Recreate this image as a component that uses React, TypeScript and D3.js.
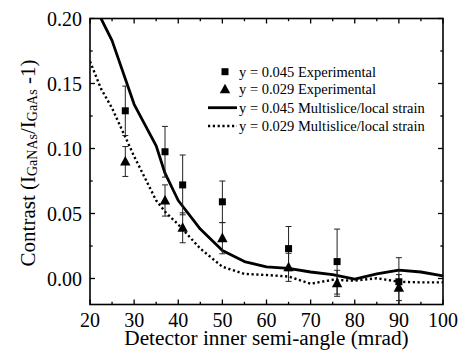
import React from "react";
import * as d3 from "d3";

const W = 462;
const H = 358;

const xTicksMajor = [20, 30, 40, 50, 60, 70, 80, 90, 100];
const yTicksMajor = [0.0, 0.05, 0.1, 0.15, 0.2];
const yTickLabels = ["0.00", "0.05", "0.10", "0.15", "0.20"];

const expX = [28, 37, 41, 50, 65, 76, 90];
const sqY = [0.129, 0.0975, 0.072, 0.059, 0.023, 0.013, -0.0025];
const sqErr = [0.019, 0.0195, 0.023, 0.016, 0.017, 0.025, 0.0185];
const triY = [0.09, 0.06, 0.039, 0.031, 0.0086, -0.0037, -0.007];
const triErr = [0.0115, 0.012, 0.0115, 0.012, 0.0108, 0.01, 0.01];

const simX = [20, 22.5, 25, 30, 35, 37, 40, 45, 50, 55, 60, 65, 70, 75, 80, 85, 90, 95, 100];
const solidY = [0.215, 0.2, 0.183, 0.134, 0.102, 0.081, 0.06, 0.038, 0.0215, 0.013, 0.009, 0.0078, 0.005, 0.003, -0.0005, 0.0035, 0.0065, 0.005, 0.002];
const dottedY = [0.167, 0.146, 0.131, 0.094, 0.06, 0.0514, 0.0415, 0.023, 0.009, 0.0035, 0.0027, 0.0015, -0.004, -0.001, -0.0017, 0.0002, -0.0025, -0.003, -0.003];

const legendLabels = [
  "y = 0.045 Experimental",
  "y = 0.029 Experimental",
  "y = 0.045 Multislice/local strain",
  "y = 0.029 Multislice/local strain",
];

const FONT = "Liberation Serif";

export default function App() {
  const left = 90, right = 443;
  const x = d3.scaleLinear().domain([20, 100]).range([left, right]);
  const y = d3.scaleLinear().domain([0, 0.2]).range([278.5, 18.5]);
  const top = y(0.2);
  const bottom = y(-0.02);

  const line = d3.line<number>().x((_, i) => x(simX[i])).y((d) => y(d));

  const xMinor = d3.range(25, 100, 10);
  const yMinorVals = [0.025, 0.075, 0.125, 0.175];

  const triPath = (cx: number, cy: number, s: number) =>
    `M${cx},${cy - s * 0.62}L${cx + s * 0.58},${cy + s * 0.45}L${cx - s * 0.58},${cy + s * 0.45}Z`;

  const legX = 225;
  const legRows = [71.7, 89.3, 107.7, 126];

  return (
    <svg width={W} height={H} style={{ position: "absolute", left: 0, top: 0, background: "#fff", fontFamily: FONT }}>
      <defs>
        <clipPath id="plotclip">
          <rect x={left} y={top} width={right - left} height={bottom - top} />
        </clipPath>
      </defs>
      <rect x={0} y={0} width={W} height={H} fill="#fff" />

      {/* ticks */}
      <g stroke="#000" strokeWidth={1.3}>
        {xTicksMajor.map((t) => (
          <g key={"xt" + t}>
            <line x1={x(t)} x2={x(t)} y1={bottom} y2={bottom - 5} />
            <line x1={x(t)} x2={x(t)} y1={top} y2={top + 5} />
          </g>
        ))}
        {xMinor.map((t) => (
          <g key={"xm" + t}>
            <line x1={x(t)} x2={x(t)} y1={bottom} y2={bottom - 2.7} />
            <line x1={x(t)} x2={x(t)} y1={top} y2={top + 2.7} />
          </g>
        ))}
        {yTicksMajor.map((t) => (
          <g key={"yt" + t}>
            <line x1={left} x2={left + 5} y1={y(t)} y2={y(t)} />
            <line x1={right} x2={right - 5} y1={y(t)} y2={y(t)} />
          </g>
        ))}
        {yMinorVals.map((t) => (
          <g key={"ym" + t}>
            <line x1={left} x2={left + 2.7} y1={y(t)} y2={y(t)} />
            <line x1={right} x2={right - 2.7} y1={y(t)} y2={y(t)} />
          </g>
        ))}
      </g>

      {/* curves */}
      <g clipPath="url(#plotclip)">
        <path d={line(solidY) || ""} fill="none" stroke="#000" strokeWidth={2.8} strokeLinejoin="round" />
        <path d={line(dottedY) || ""} fill="none" stroke="#000" strokeWidth={2.4} strokeDasharray="2.2,2.6" />

        {/* error bars */}
        <g stroke="#222" strokeWidth={1}>
          {expX.map((xv, i) => (
            <g key={"es" + i}>
              <line x1={x(xv)} x2={x(xv)} y1={y(sqY[i] + sqErr[i])} y2={y(sqY[i] - sqErr[i])} />
              <line x1={x(xv) - 3} x2={x(xv) + 3} y1={y(sqY[i] + sqErr[i])} y2={y(sqY[i] + sqErr[i])} />
              <line x1={x(xv) - 3} x2={x(xv) + 3} y1={y(sqY[i] - sqErr[i])} y2={y(sqY[i] - sqErr[i])} />
            </g>
          ))}
          {expX.map((xv, i) => (
            <g key={"et" + i}>
              <line x1={x(xv)} x2={x(xv)} y1={y(triY[i] + triErr[i])} y2={y(triY[i] - triErr[i])} />
              <line x1={x(xv) - 3} x2={x(xv) + 3} y1={y(triY[i] + triErr[i])} y2={y(triY[i] + triErr[i])} />
              <line x1={x(xv) - 3} x2={x(xv) + 3} y1={y(triY[i] - triErr[i])} y2={y(triY[i] - triErr[i])} />
            </g>
          ))}
        </g>
        {expX.map((xv, i) => (
          <rect key={"sq" + i} x={x(xv) - 3.5} y={y(sqY[i]) - 3.5} width={7} height={7} fill="#000" />
        ))}
        {expX.map((xv, i) => (
          <path key={"tr" + i} d={triPath(x(xv), y(triY[i]), 9)} fill="#000" />
        ))}
      </g>

      {/* frame */}
      <rect x={left} y={top} width={right - left} height={bottom - top} fill="none" stroke="#000" strokeWidth={1.6} />

      {/* tick labels */}
      <g fontSize={20} fill="#000">
        {xTicksMajor.map((t) => (
          <text key={"xl" + t} x={x(t)} y={326.5} textAnchor="middle">{t}</text>
        ))}
        {yTicksMajor.map((t, i) => (
          <text key={"yl" + t} x={82} y={y(t) + 7} textAnchor="end">{yTickLabels[i]}</text>
        ))}
      </g>

      {/* axis titles */}
      <text x={(left + right) / 2} y={344.5} fontSize={21.3} textAnchor="middle" fill="#000">
        Detector inner semi-angle (mrad)
      </text>
      <text transform={`translate(35,163) rotate(-90)`} fontSize={21} textAnchor="middle" fill="#000">
        Contrast (I
        <tspan fontSize={14} dy={2}>GaNAs</tspan>
        <tspan dy={-2}>/I</tspan>
        <tspan fontSize={14} dy={2}>GaAs</tspan>
        <tspan dy={-2}> -1)</tspan>
      </text>

      {/* legend */}
      <rect x={legX - 3.5} y={legRows[0] - 3.5} width={7} height={7} fill="#000" />
      <path d={triPath(legX, legRows[1], 9)} fill="#000" />
      <line x1={208} x2={237} y1={legRows[2]} y2={legRows[2]} stroke="#000" strokeWidth={2.8} />
      <line x1={208} x2={237} y1={legRows[3]} y2={legRows[3]} stroke="#000" strokeWidth={2.4} strokeDasharray="2.2,2.6" />
      <g fontSize={14.5} fill="#000">
        {legendLabels.map((l, i) => (
          <text key={"lg" + i} x={239} y={legRows[i] + 5}>{l}</text>
        ))}
      </g>
    </svg>
  );
}
